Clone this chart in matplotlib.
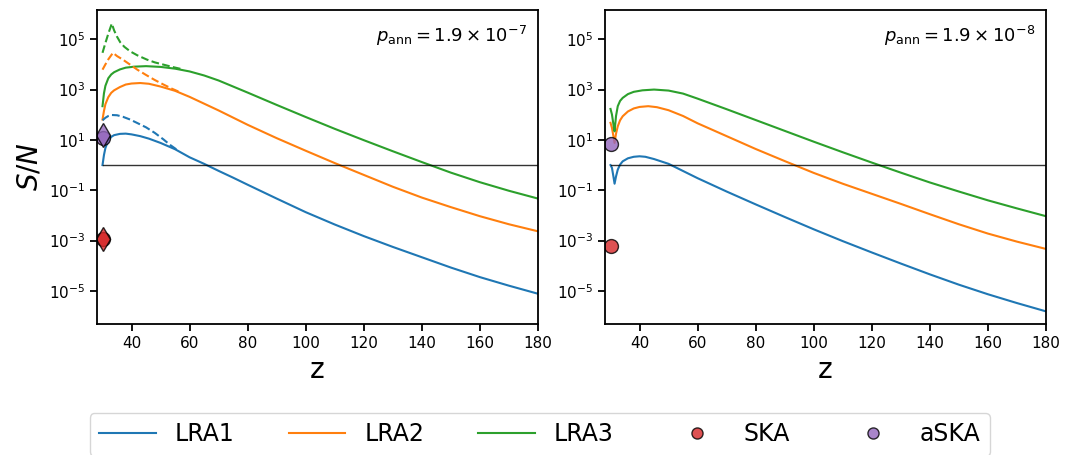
import numpy as np
import matplotlib
matplotlib.use("Agg")
import matplotlib.pyplot as plt

# left panel, p_ann = 1.9e-7  (values are log10(S/N))
zl_1 = [30, 30.5, 31, 32, 33, 34, 36, 38, 40, 43, 46, 50, 55, 60, 65, 70, 75, 80, 90, 100, 110, 120, 130, 140, 150, 160, 170, 180]
sl_1 = [0, 0.4, 0.68, 0.98, 1.12, 1.19, 1.24, 1.25, 1.22, 1.15, 1.05, 0.88, 0.63, 0.31, 0.05, -0.23, -0.50, -0.78, -1.33, -1.87, -2.36, -2.82, -3.25, -3.66, -4.07, -4.45, -4.79, -5.11]
zl_1d = [30, 31, 32, 33.2, 35, 37, 39.5, 42, 45, 48, 51, 53.3, 56]
sl_1d = [1.78, 1.88, 1.95, 1.99, 1.98, 1.92, 1.81, 1.67, 1.50, 1.28, 1.02, 0.80, 0.58]

zl_2 = [30, 30.5, 31, 32, 33, 34, 36, 38, 40, 43, 46, 50, 55, 60, 65, 70, 80, 90, 100, 110, 120, 130, 140, 150, 160, 170, 180]
sl_2 = [1.81, 2.15, 2.42, 2.70, 2.87, 2.97, 3.10, 3.20, 3.24, 3.26, 3.23, 3.12, 2.95, 2.71, 2.44, 2.17, 1.60, 1.07, 0.57, 0.08, -0.39, -0.86, -1.29, -1.67, -2.03, -2.35, -2.63]
zl_2d = [30, 31, 32, 33.6, 35, 37, 39.5, 42, 45, 48, 51, 54, 57]
sl_2d = [3.79, 4.00, 4.20, 4.46, 4.33, 4.19, 3.99, 3.79, 3.58, 3.38, 3.20, 3.03, 2.88]

zl_3 = [30, 30.5, 31, 32, 33, 34, 36, 38, 41, 45, 50, 55, 60, 65, 70, 80, 90, 100, 110, 120, 130, 140, 150, 160, 170, 180]
sl_3 = [2.34, 2.85, 3.15, 3.45, 3.60, 3.69, 3.80, 3.87, 3.91, 3.93, 3.90, 3.83, 3.72, 3.56, 3.36, 2.88, 2.39, 1.91, 1.44, 0.99, 0.55, 0.12, -0.30, -0.68, -1.02, -1.33]
zl_3d = [30, 31, 32, 33.2, 34, 35, 36.1, 37.5, 39.5, 42, 45.3, 48, 51, 54, 57]
sl_3d = [4.46, 4.85, 5.22, 5.62, 5.35, 5.10, 4.88, 4.70, 4.52, 4.36, 4.19, 4.08, 3.99, 3.90, 3.82]

# right panel, p_ann = 1.9e-8
zr_1 = [30, 30.5, 31, 31.4, 31.9, 32.5, 33.3, 34.2, 36, 38, 40, 42, 45, 50, 60, 70, 80, 90, 100, 110, 120, 130, 140, 150, 160, 170, 180]
sr_1 = [0, -0.11, -0.45, -0.74, -0.45, -0.18, 0.02, 0.15, 0.27, 0.33, 0.35, 0.33, 0.24, 0.05, -0.52, -1.05, -1.56, -2.06, -2.55, -3.02, -3.47, -3.91, -4.34, -4.75, -5.13, -5.48, -5.81]
zr_2 = [30, 30.5, 31, 31.4, 31.9, 32.5, 33.3, 34.2, 36, 38, 40, 43, 46, 50, 55, 60, 70, 80, 90, 100, 110, 120, 130, 140, 150, 160, 170, 180]
sr_2 = [1.68, 1.48, 1.15, 0.88, 1.25, 1.54, 1.78, 1.94, 2.13, 2.25, 2.31, 2.34, 2.30, 2.18, 1.95, 1.66, 1.15, 0.64, 0.16, -0.31, -0.74, -1.14, -1.54, -1.95, -2.35, -2.72, -3.04, -3.33]
zr_3 = [30, 30.5, 31, 31.4, 31.9, 32.5, 33.3, 34.2, 36, 38, 41, 45, 50, 55, 60, 70, 80, 90, 100, 110, 120, 130, 140, 150, 160, 170, 180]
sr_3 = [2.23, 2.01, 1.62, 1.34, 1.95, 2.34, 2.55, 2.67, 2.82, 2.91, 2.97, 3.00, 2.96, 2.84, 2.64, 2.22, 1.79, 1.36, 0.93, 0.51, 0.10, -0.30, -0.69, -1.05, -1.40, -1.72, -2.03]

# telescopes at z = 30
z_tel = 30
ska_left, aska_left = 1.15e-3, 12.0
ska_left_d, aska_left_d = 1.17e-3, 16.0
ska_right, aska_right = 6.3e-4, 6.9

p_labels = [r'$p_{\rm ann} = 1.9 \times 10^{-7}$', r'$p_{\rm ann} = 1.9 \times 10^{-8}$']

fig = plt.figure(figsize=(10.67, 4.55), dpi=100)
ax1 = fig.add_axes([0.0909, 0.288, 0.4133, 0.690])
ax2 = fig.add_axes([0.567, 0.288, 0.4133, 0.690])

def p(v):
    return 10 ** np.array(v)

ax1.plot(zl_1, p(sl_1), color='C0', lw=1.5, label='LRA1')
ax1.plot(zl_2, p(sl_2), color='C1', lw=1.5, label='LRA2')
ax1.plot(zl_3, p(sl_3), color='C2', lw=1.5, label='LRA3')
ax1.plot(zl_1d, p(sl_1d), color='C0', lw=1.5, ls='--')
ax1.plot(zl_2d, p(sl_2d), color='C1', lw=1.5, ls='--')
ax1.plot(zl_3d, p(sl_3d), color='C2', lw=1.5, ls='--')
ax1.plot([z_tel], [ska_left], 'o', ms=10, color='C3', alpha=0.8, mec='k', label='SKA')
ax1.plot([z_tel], [aska_left], 'o', ms=10, color='C4', alpha=0.8, mec='k', label='aSKA')
ax1.plot([z_tel], [ska_left_d], 'd', ms=12, color='C3', mec='k', alpha=0.8)
ax1.plot([z_tel], [aska_left_d], 'd', ms=12, color='C4', mec='k', alpha=0.8)

ax2.plot(zr_1, p(sr_1), color='C0', lw=1.5)
ax2.plot(zr_2, p(sr_2), color='C1', lw=1.5)
ax2.plot(zr_3, p(sr_3), color='C2', lw=1.5)
ax2.plot([z_tel], [ska_right], 'o', ms=10, color='C3', alpha=0.8, mec='k')
ax2.plot([z_tel], [aska_right], 'o', ms=10, color='C4', alpha=0.8, mec='k')

for ax, lab in zip([ax1, ax2], p_labels):
    ax.plot([30, 180], [1, 1], color='k', lw=1, alpha=0.8)
    ax.set_yscale('log')
    ax.set_xlim(28.1, 180)
    ax.set_ylim(10 ** -6.31, 10 ** 6.16)
    ax.set_yticks([1e-5, 1e-3, 1e-1, 1e1, 1e3, 1e5])
    ax.minorticks_off()
    ax.set_xticks([40, 60, 80, 100, 120, 140, 160, 180])
    ax.tick_params(labelsize=11, width=1.3, length=5)
    for s in ax.spines.values():
        s.set_linewidth(1.3)
    ax.set_xlabel('z', fontsize=20)
    ax.text(0.975, 0.955, lab, transform=ax.transAxes, ha='right', va='top', fontsize=13)

ax1.set_ylabel(r'$S/N$', fontsize=20)

h, l = ax1.get_legend_handles_labels()
fig.legend(h, l, loc='upper center', bbox_to_anchor=(0.506, 0.0923), ncol=5,
           fontsize=17, handlelength=2.4, columnspacing=2.3, markerscale=0.8,
           borderaxespad=0)

fig.savefig('out.png', dpi=100)
